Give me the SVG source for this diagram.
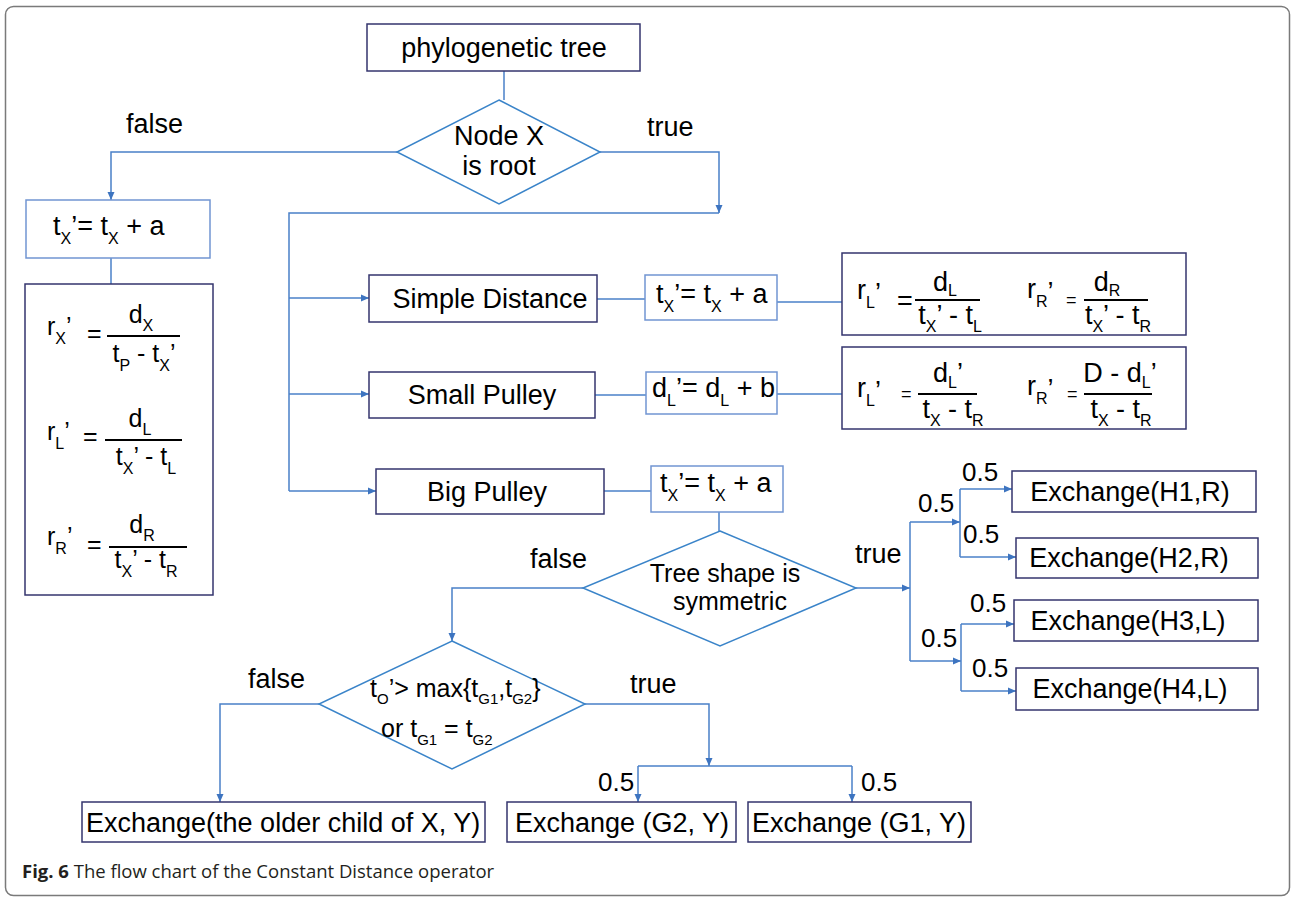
<svg xmlns="http://www.w3.org/2000/svg" width="1292" height="898" viewBox="0 0 1292 898">
<style>
.t{font-family:"Liberation Sans",Arial,sans-serif;fill:#000}
.l{font-size:27px}
.m{font-size:25px}
.mid{text-anchor:middle}
.s{font-size:16px}
.n{font-size:26px}
.box{fill:#fff;stroke:#34356e;stroke-width:1.5}
.lbox{fill:#fff;stroke:#7195d2;stroke-width:1.5}
.dia{fill:#fff;stroke:#3a84c9;stroke-width:1.5}
.con{fill:none;stroke:#4a80c8;stroke-width:1.5}
.arr{marker-end:url(#ah)}
.frac{stroke:#000;stroke-width:2}
.cap{font-family:"Open Sans","Noto Sans",sans-serif;font-size:18.5px;fill:#231f20}
</style>
<defs>
<marker id="ah" markerWidth="9" markerHeight="8" refX="8" refY="4" orient="auto" markerUnits="userSpaceOnUse">
<path d="M0,0.5 L8,4 L0,7.5 z" fill="#3d74c0"/>
</marker>
</defs>
<rect x="5.5" y="6.5" width="1284" height="889" rx="8" fill="#fff" stroke="#7a7a7a" stroke-width="1.5"/>

<g id="connectors">
<path class="con" d="M504,71 V100"/>
<path class="con arr" d="M397,152 H111 V200"/>
<path class="con arr" d="M600,152 H719 V213"/>
<path class="con" d="M719,213 H289 V491"/>
<path class="con arr" d="M289,298 H369"/>
<path class="con arr" d="M289,394 H369"/>
<path class="con arr" d="M289,491 H376"/>
<path class="con" d="M111,258 V284"/>
<path class="con" d="M597,299 H645"/>
<path class="con" d="M777,302 H842"/>
<path class="con" d="M595,395 H646"/>
<path class="con" d="M777,394 H842"/>
<path class="con" d="M604,491 H651"/>
<path class="con" d="M719,512 V531"/>
<path class="con arr" d="M583,588 H452 V641"/>
<path class="con arr" d="M856,588 H910"/>
<path class="con" d="M910,522 V661"/>
<path class="con arr" d="M910,522 H960"/>
<path class="con arr" d="M910,661 H961"/>
<path class="con" d="M960,489 V557"/>
<path class="con arr" d="M960,489 H1012"/>
<path class="con arr" d="M960,557 H1016"/>
<path class="con" d="M961,624 V691"/>
<path class="con arr" d="M961,624 H1014"/>
<path class="con arr" d="M961,691 H1016"/>
<path class="con arr" d="M319,704 H220 V802"/>
<path class="con arr" d="M585,704 H709 V766"/>
<path class="con" d="M638,766 H852"/>
<path class="con arr" d="M638,766 V802"/>
<path class="con arr" d="M852,766 V802"/>
</g>

<g id="edge-labels">
<text class="t l" x="126" y="133">false</text>
<text class="t l" x="647" y="136">true</text>
<text class="t l" x="530" y="568">false</text>
<text class="t l" x="855" y="563">true</text>
<text class="t l" x="248" y="688">false</text>
<text class="t l" x="630" y="693">true</text>
<text class="t n" x="962" y="481">0.5</text>
<text class="t n" x="918" y="512">0.5</text>
<text class="t n" x="963" y="543">0.5</text>
<text class="t n" x="970" y="612">0.5</text>
<text class="t n" x="921" y="647">0.5</text>
<text class="t n" x="972" y="677">0.5</text>
<text class="t n" x="598" y="791">0.5</text>
<text class="t n" x="861" y="791">0.5</text>
</g>

<g id="n-phylo">
<rect class="box" x="367" y="24" width="273" height="47"/>
<text class="t l mid" x="504" y="57">phylogenetic tree</text>
</g>

<g id="n-root">
<polygon class="dia" points="499,100 600,152 499,204 397,152"/>
<text class="t l mid" x="499" y="145">Node X</text>
<text class="t l mid" x="499" y="175">is root</text>
</g>

<g id="n-left-tx">
<rect class="lbox" x="26" y="200" width="184" height="58"/>
<text class="t l" x="53" y="235">t<tspan class="s" dy="9">X</tspan><tspan dy="-9">’= t</tspan><tspan class="s" dy="9">X</tspan><tspan dy="-9"> + a</tspan></text>
</g>

<g id="n-left-formulas">
<rect class="box" x="25" y="284" width="188" height="311"/>
<text class="t m" x="47" y="335">r<tspan class="s" dy="9">X</tspan><tspan dy="-9">’</tspan></text>
<text class="t m" x="87" y="342">=</text>
<line class="frac" x1="107" y1="336" x2="180" y2="336"/>
<text class="t m mid" x="141" y="323">d<tspan class="s" dy="8">X</tspan></text>
<text class="t m mid" x="144" y="362">t<tspan class="s" dy="9">P</tspan><tspan dy="-9"> - t</tspan><tspan class="s" dy="9">X</tspan><tspan dy="-9">’</tspan></text>

<text class="t m" x="47" y="440">r<tspan class="s" dy="9">L</tspan><tspan dy="-9">’</tspan></text>
<text class="t m" x="83" y="445">=</text>
<line class="frac" x1="105" y1="440" x2="182" y2="440"/>
<text class="t m mid" x="140" y="427">d<tspan class="s" dy="8">L</tspan></text>
<text class="t m mid" x="146" y="465">t<tspan class="s" dy="9">X</tspan><tspan dy="-9">’ - t</tspan><tspan class="s" dy="9">L</tspan></text>

<text class="t m" x="47" y="545">r<tspan class="s" dy="9">R</tspan><tspan dy="-9">’</tspan></text>
<text class="t m" x="87" y="553">=</text>
<line class="frac" x1="109" y1="547" x2="187" y2="547"/>
<text class="t m mid" x="142" y="533">d<tspan class="s" dy="8">R</tspan></text>
<text class="t m mid" x="146" y="568">t<tspan class="s" dy="9">X</tspan><tspan dy="-9">’ - t</tspan><tspan class="s" dy="9">R</tspan></text>
</g>

<g id="n-simple">
<rect class="box" x="369" y="275" width="228" height="47"/>
<text class="t l mid" x="490" y="308">Simple Distance</text>
</g>
<g id="n-small">
<rect class="box" x="369" y="372" width="226" height="46"/>
<text class="t l mid" x="482" y="404">Small Pulley</text>
</g>
<g id="n-big">
<rect class="box" x="376" y="469" width="228" height="45"/>
<text class="t l mid" x="487" y="501">Big Pulley</text>
</g>

<g id="n-simple-tx">
<rect class="lbox" x="645" y="275" width="132" height="45"/>
<text class="t l" x="656" y="303">t<tspan class="s" dy="9">X</tspan><tspan dy="-9">’= t</tspan><tspan class="s" dy="9">X</tspan><tspan dy="-9"> + a</tspan></text>
</g>
<g id="n-small-dl">
<rect class="lbox" x="646" y="372" width="131" height="42"/>
<text class="t l" x="652" y="397">d<tspan class="s" dy="9">L</tspan><tspan dy="-9">’= d</tspan><tspan class="s" dy="9">L</tspan><tspan dy="-9"> + b</tspan></text>
</g>
<g id="n-big-tx">
<rect class="lbox" x="651" y="466" width="132" height="46"/>
<text class="t l" x="660" y="492">t<tspan class="s" dy="9">X</tspan><tspan dy="-9">’= t</tspan><tspan class="s" dy="9">X</tspan><tspan dy="-9"> + a</tspan></text>
</g>

<g id="n-simple-rates">
<rect class="box" x="842" y="253" width="344" height="82"/>
<text class="t l" x="857" y="299">r<tspan class="s" dy="9">L</tspan><tspan dy="-6">’</tspan></text>
<text class="t l" x="897" y="310">=</text>
<line class="frac" x1="915" y1="300" x2="980" y2="300"/>
<text class="t l mid" x="945" y="291">d<tspan class="s" dy="5">L</tspan></text>
<text class="t l mid" x="950" y="324">t<tspan class="s" dy="8">X</tspan><tspan dy="-8">’ - t</tspan><tspan class="s" dy="8">L</tspan></text>
<text class="t l" x="1027" y="298">r<tspan class="s" dy="9">R</tspan><tspan dy="-6">’</tspan></text>
<text class="t" style="font-size:18px" x="1066" y="306">=</text>
<line class="frac" x1="1084" y1="300" x2="1148" y2="300"/>
<text class="t l mid" x="1107" y="291">d<tspan class="s" dy="5">R</tspan></text>
<text class="t l mid" x="1118" y="324">t<tspan class="s" dy="8">X</tspan><tspan dy="-8">’ - t</tspan><tspan class="s" dy="8">R</tspan></text>
</g>

<g id="n-small-rates">
<rect class="box" x="842" y="347" width="344" height="82"/>
<text class="t l" x="857" y="397">r<tspan class="s" dy="9">L</tspan><tspan dy="-6">’</tspan></text>
<text class="t" style="font-size:18px" x="901" y="400">=</text>
<line class="frac" x1="918" y1="394" x2="977" y2="394"/>
<text class="t l mid" x="948" y="382">d<tspan class="s" dy="6">L</tspan><tspan dy="-6">’</tspan></text>
<text class="t l mid" x="953" y="418">t<tspan class="s" dy="8">X</tspan><tspan dy="-8"> - t</tspan><tspan class="s" dy="8">R</tspan></text>
<text class="t l" x="1027" y="395">r<tspan class="s" dy="9">R</tspan><tspan dy="-6">’</tspan></text>
<text class="t" style="font-size:18px" x="1067" y="400">=</text>
<line class="frac" x1="1084" y1="394" x2="1152" y2="394"/>
<text class="t l mid" x="1120" y="382">D - d<tspan class="s" dy="6">L</tspan><tspan dy="-6">’</tspan></text>
<text class="t l mid" x="1121" y="418">t<tspan class="s" dy="8">X</tspan><tspan dy="-8"> - t</tspan><tspan class="s" dy="8">R</tspan></text>
</g>

<g id="n-symmetric">
<polygon class="dia" points="720,531 856,588 720,646 583,588"/>
<text class="t mid" style="font-size:25px" x="725" y="582">Tree shape is</text>
<text class="t mid" style="font-size:25px" x="730" y="610">symmetric</text>
</g>

<g id="n-h1">
<rect class="box" x="1012" y="471" width="244" height="41"/>
<text class="t l mid" x="1130" y="501">Exchange(H1,R)</text>
</g>
<g id="n-h2">
<rect class="box" x="1016" y="538" width="242" height="40"/>
<text class="t l mid" x="1129" y="567">Exchange(H2,R)</text>
</g>
<g id="n-h3">
<rect class="box" x="1014" y="600" width="244" height="41"/>
<text class="t l mid" x="1128" y="630">Exchange(H3,L)</text>
</g>
<g id="n-h4">
<rect class="box" x="1016" y="668" width="242" height="42"/>
<text class="t l mid" x="1130" y="698">Exchange(H4,L)</text>
</g>

<g id="n-age">
<polygon class="dia" points="452,641 585,704 452,769 319,704"/>
<text class="t" style="font-size:25px" x="370" y="697">t<tspan style="font-size:15px" dy="7">O</tspan><tspan dy="-7">’&gt; max{t</tspan><tspan style="font-size:15px" dy="7">G1</tspan><tspan dy="-7">,t</tspan><tspan style="font-size:15px" dy="7">G2</tspan><tspan dy="-7">}</tspan></text>
<text class="t" style="font-size:25px" x="381" y="737">or  t<tspan style="font-size:15px" dy="8">G1</tspan><tspan dy="-8"> = t</tspan><tspan style="font-size:15px" dy="8">G2</tspan></text>
</g>

<g id="n-older">
<rect class="box" x="82" y="802" width="403" height="40"/>
<text class="t l" x="86" y="832">Exchange(the older child of X, Y)</text>
</g>
<g id="n-g2">
<rect class="box" x="507" y="802" width="229" height="40"/>
<text class="t l mid" x="622" y="832">Exchange (G2, Y)</text>
</g>
<g id="n-g1">
<rect class="box" x="748" y="802" width="223" height="40"/>
<text class="t l mid" x="859" y="832">Exchange (G1, Y)</text>
</g>

<text class="cap" x="22" y="878"><tspan font-weight="bold">Fig. 6</tspan> The flow chart of the Constant Distance operator</text>
</svg>
